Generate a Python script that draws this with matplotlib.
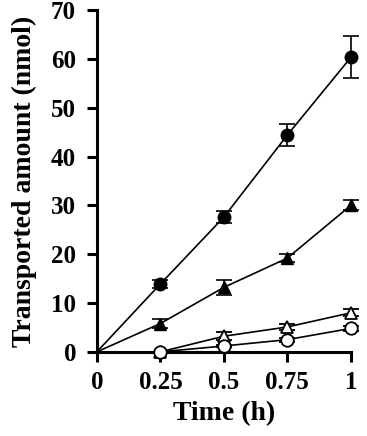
import matplotlib
matplotlib.use("Agg")
import matplotlib.pyplot as plt

plt.rcParams['font.family'] = ['Liberation Serif', 'DejaVu Serif']
plt.rcParams['font.weight'] = 'bold'

# filled series start at the origin, open series start at 0.25 h
time_full = [0, 0.25, 0.5, 0.75, 1]
time_open = [0.25, 0.5, 0.75, 1]

filled_circle = [0, 13.9, 27.6, 44.4, 60.3]
filled_circle_err = [0, 0.9, 1.2, 2.3, 4.3]
filled_tri = [0, 5.8, 13.2, 19.2, 30.0]
filled_tri_err = [0, 0.9, 1.6, 0.8, 1.0]
open_tri = [0, 3.2, 5.1, 8.0]
open_tri_err = [0, 0.8, 0.6, 0.7]
open_circle = [0, 1.2, 2.5, 4.8]
open_circle_err = [0, 0.3, 0.4, 0.5]

xticks = [0, 0.25, 0.5, 0.75, 1]
xticklabels = ['0', '0.25', '0.5', '0.75', '1']
yticks = [0, 10, 20, 30, 40, 50, 60, 70]

fig = plt.figure(figsize=(3.67, 4.36), dpi=100)
ax = fig.add_axes([0.264, 0.193, 0.692, 0.784])

common = dict(color='black', capsize=6, elinewidth=1.2, capthick=1.2,
              linewidth=1.2, markersize=9, clip_on=False, zorder=3)
# no marker drawn at the origin
ax.errorbar(time_full, filled_circle, yerr=filled_circle_err, fmt='-o',
            markerfacecolor='black', markevery=[1, 2, 3, 4],
            errorevery=(1, 1), **common)
ax.errorbar(time_full, filled_tri, yerr=filled_tri_err, fmt='-^',
            markerfacecolor='black', markevery=[1, 2, 3, 4],
            errorevery=(1, 1), **common)
ax.errorbar(time_open, open_tri, yerr=open_tri_err, fmt='-^',
            markerfacecolor='white', markeredgewidth=1.3, **common)
ax.errorbar(time_open, open_circle, yerr=open_circle_err, fmt='-o',
            markerfacecolor='white', markeredgewidth=1.3, **common)

ax.set_xlim(0, 1)
ax.set_ylim(0, 70)
ax.set_xticks(xticks)
ax.set_xticklabels(xticklabels)
ax.set_yticks(yticks)
for side in ['top', 'right']:
    ax.spines[side].set_visible(False)
for side in ['left', 'bottom']:
    ax.spines[side].set_linewidth(2.2)
ax.tick_params(width=2.2, length=7, labelsize=18)
ax.tick_params(axis='x', pad=7)
ax.tick_params(axis='y', pad=8)

ax.set_xlabel('Time (h)', fontsize=20, fontweight='bold', labelpad=5)
ax.set_ylabel('Transported amount (nmol)', fontsize=20, fontweight='bold', labelpad=10)

fig.savefig('out.png', dpi=100)
